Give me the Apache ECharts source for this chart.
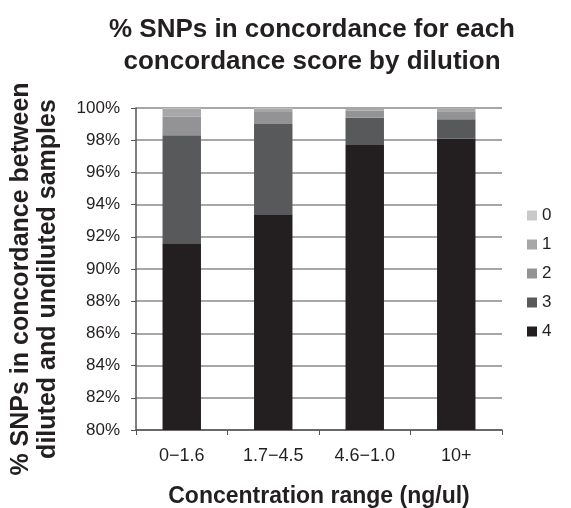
<!DOCTYPE html>
<html>
<head>
<meta charset="utf-8">
<script src="https://cdn.jsdelivr.net/npm/echarts@6/dist/echarts.min.js"></script>
</head>
<body style="margin:0;background:#fff">
<!-- chart container -->
<div id="chart" style="width:571px;height:508px"></div>
<script>
// concentration ranges on the x axis
var categories = ["0\u22121.6", "1.7\u22124.5", "4.6\u22121.0", "10+"];
// concordance score names, legend order
var scoreNames = ["0", "1", "2", "3", "4"];
// percent of SNPs per score, stacked from 4 (bottom) to 0 (top)
var score4 = [91.6, 93.4, 97.7, 98.1];
var score3 = [6.7, 5.6, 1.7, 1.2];
var score2 = [1.15, 0.75, 0.45, 0.5];
var score1 = [0.5, 0.2, 0.15, 0.18];
var score0 = [0.05, 0.05, 0.0, 0.02];
var yTicks = [80, 82, 84, 86, 88, 90, 92, 94, 96, 98, 100];

var colors = {"0": "#c9c9cb", "1": "#a7a7aa", "2": "#939396", "3": "#58595b", "4": "#231f20"};
var seriesData = {"0": score0, "1": score1, "2": score2, "3": score3, "4": score4};

var chart = echarts.init(document.getElementById("chart"));

// bottom-up stacking order
var series = ["4", "3", "2", "1", "0"].map(function (k) {
  return {
    name: k,
    type: "bar",
    stack: "total",
    barWidth: "42%",
    itemStyle: { color: colors[k] },
    data: seriesData[k]
  };
});

chart.setOption({
  animation: false,
  title: {
    text: "% SNPs in concordance for each\nconcordance score by dilution",
    left: 307,
    top: 9,
    textAlign: "center",
    textStyle: {
      fontFamily: "Liberation Sans",
      fontSize: 26,
      fontWeight: "bold",
      color: "#231f20",
      lineHeight: 32
    }
  },
  legend: {
    data: scoreNames,
    orient: "vertical",
    left: 522,
    top: 202,
    itemWidth: 10,
    itemHeight: 10,
    itemGap: 12,
    icon: "rect",
    textStyle: { fontFamily: "Liberation Sans", fontSize: 17, color: "#231f20" }
  },
  grid: { left: 136, right: 69, top: 108, bottom: 78, outerBoundsMode: "none" },
  xAxis: {
    type: "category",
    data: categories,
    name: "Concentration range (ng/ul)",
    nameLocation: "middle",
    nameGap: 55,
    nameTextStyle: { fontFamily: "Liberation Sans", fontSize: 23, fontWeight: "bold", color: "#231f20" },
    axisLine: { lineStyle: { color: "#555", width: 1.5 } },
    axisTick: { show: true, length: 5, lineStyle: { color: "#555" } },
    axisLabel: { fontFamily: "Liberation Sans", fontSize: 18, color: "#231f20", margin: 17 }
  },
  yAxis: {
    type: "value",
    min: 80,
    max: 100,
    interval: 2,
    name: "% SNPs in concordance between\ndiluted and undiluted samples",
    nameLocation: "middle",
    nameGap: 74,
    nameRotate: 90,
    nameTextStyle: {
      fontFamily: "Liberation Sans",
      fontSize: 25,
      fontWeight: "bold",
      color: "#231f20",
      lineHeight: 27,
      padding: [0, 20, 0, 0]
    },
    axisLine: { show: true, lineStyle: { color: "#555", width: 1.5 } },
    axisTick: { show: true, length: 5, lineStyle: { color: "#555" } },
    axisLabel: {
      fontFamily: "Liberation Sans",
      fontSize: 17,
      color: "#231f20",
      margin: 16,
      formatter: function (v) { return yTicks.indexOf(v) >= 0 ? v + "%" : ""; }
    },
    splitLine: { lineStyle: { color: "#8a8a8a", width: 1.5 } }
  },
  series: series
});
</script>
</body>
</html>
